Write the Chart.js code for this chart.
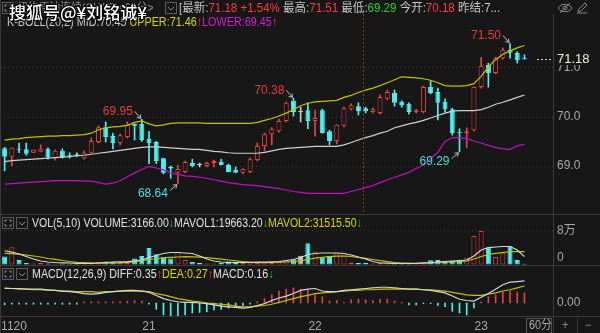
<!DOCTYPE html>
<html>
<head>
<meta charset="utf-8">
<title>K线 60分</title>
<script src="https://cdn.jsdelivr.net/npm/chart.js@4.4.1/dist/chart.umd.min.js"></script>
<style>
  html, body { margin: 0; padding: 0; background: #171717; }
  #board { position: relative; width: 600px; height: 333px; overflow: hidden; background: #171717;
           font-family: 'Liberation Sans', 'Noto Sans CJK SC', sans-serif; color: #c8c8c8; }
  #board canvas { position: absolute; left: 0; }
  .ln { position: absolute; background: #3a3a3a; }
  .t { position: absolute; white-space: nowrap; font-size: 12px; line-height: 14px;
       transform: scaleX(0.9); transform-origin: 0 50%; }
  .ic { position: absolute; }
  .r { color: #ff3b3b; } .g { color: #22d422; } .y { color: #d8d800; } .m { color: #d41cd4; } .w { color: #e2e2e2; }
  .dim { color: #8c8c8c; }
  .wm { position: absolute; left: 9px; top: 2px; font-size: 17px; line-height: 20px; color: #fff;
        font-family: 'Noto Sans CJK SC', sans-serif; font-weight: 500; white-space: nowrap;
        text-shadow: 1px 1px 1px #000, -1px -1px 1px #000, 1px -1px 1px #000, -1px 1px 1px #000; }
</style>
</head>
<body>
<div id="board">
  <canvas id="price" width="600" height="213" style="top:0"></canvas>
  <canvas id="vol" width="600" height="52" style="top:214px"></canvas>
  <canvas id="macd" width="600" height="67" style="top:266px"></canvas>

  <!-- panel separators -->
  <div class="ln" style="left:0;top:0;width:1px;height:333px"></div>
  <div class="ln" style="left:553px;top:14px;width:1px;height:319px"></div>
  <div class="ln" style="left:0;top:214px;width:600px;height:1px"></div>
  <div class="ln" style="left:0;top:265px;width:600px;height:1px"></div>
  <div class="ln" style="left:0;top:316px;width:600px;height:1px"></div>
  <div class="ln" style="left:577px;top:317px;width:1px;height:16px"></div>

  <!-- header -->
  <svg class="ic" style="left:2px;top:2px" width="12" height="12"><rect x="0.5" y="0.5" width="11" height="11" fill="none" stroke="#5c5c5c"/><path d="M3 5V3H5M7 3H9V5M9 7V9H7M5 9H3V7" stroke="#8a8a8a" fill="none"/></svg>
  <div class="t dim" style="left:17px;top:1px">纽约原油连续(CLW0)&lt;60分&gt;</div>
  <svg class="ic" style="left:165px;top:2px" width="12" height="12"><rect x="0.5" y="0.5" width="11" height="11" fill="none" stroke="#5c5c5c"/><path d="M3 5L6 8L9 5" stroke="#8a8a8a" fill="none"/></svg>
  <div class="t" style="left:179px;top:1px;transform:scaleX(0.96)">[最新:<span class="r">71.18 +1.54%</span> 最高:<span class="r">71.51</span> 最低:<span class="g">69.29</span> 今开:<span class="r">70.18</span> 昨结:7...</div>
  <svg class="ic" style="left:557px;top:2px" width="16" height="12"><path d="M1 6C4 1 12 1 15 6C12 11 4 11 1 6Z" stroke="#8a8a8a" fill="none"/><circle cx="8" cy="6" r="2" stroke="#8a8a8a" fill="none"/><path d="M3 11L13 1" stroke="#8a8a8a"/></svg>
  <svg class="ic" style="left:576px;top:1px" width="12" height="13"><path d="M2 11L3 8L9 2L11 4L5 10Z M1 12H11" stroke="#8a8a8a" fill="none"/></svg>
  <div class="t" style="left:7px;top:15px">K-BOLL(20,2) MID:70.45 <span class="y">UPPER:71.46</span><span class="r">↑</span><span class="m">LOWER:69.45</span><span class="r">↑</span></div>
  <div class="wm">搜狐号@¥刘铭诚¥</div>

  <!-- volume header -->
  <svg class="ic" style="left:2px;top:217px" width="12" height="12"><rect x="0.5" y="0.5" width="11" height="11" fill="none" stroke="#5c5c5c"/><path d="M3 5V3H5M7 3H9V5M9 7V9H7M5 9H3V7" stroke="#8a8a8a" fill="none"/></svg>
  <svg class="ic" style="left:16px;top:217px" width="12" height="12"><rect x="0.5" y="0.5" width="11" height="11" fill="none" stroke="#5c5c5c"/><path d="M3 5L6 8L9 5" stroke="#8a8a8a" fill="none"/></svg>
  <div class="t w" style="left:32px;top:216px;transform:scaleX(0.876)">VOL(5,10) VOLUME:3166.00<span class="g">↓</span>MAVOL1:19663.20<span class="g">↓</span><span class="y">MAVOL2:31515.50</span><span class="g">↓</span></div>

  <!-- macd header -->
  <svg class="ic" style="left:2px;top:268px" width="12" height="12"><rect x="0.5" y="0.5" width="11" height="11" fill="none" stroke="#5c5c5c"/><path d="M3 5V3H5M7 3H9V5M9 7V9H7M5 9H3V7" stroke="#8a8a8a" fill="none"/></svg>
  <svg class="ic" style="left:16px;top:268px" width="12" height="12"><rect x="0.5" y="0.5" width="11" height="11" fill="none" stroke="#5c5c5c"/><path d="M3 5L6 8L9 5" stroke="#8a8a8a" fill="none"/></svg>
  <div class="t w" style="left:32px;top:267px;transform:scaleX(0.89)">MACD(12,26,9) DIFF:0.35<span class="r">↑</span><span class="y">DEA:0.27</span><span class="r">↑</span>MACD:0.16<span class="g">↓</span></div>

  <!-- period switch -->
  <div style="position:absolute;left:526px;top:318px;width:24px;height:14px;border:1px solid #555;"></div>
  <div class="t" style="left:529px;top:318px;color:#a8a8a8">60分</div>
  <div class="t" style="left:562px;top:318px;color:#8a8a8a">+</div>
  <div class="t" style="left:585px;top:318px;color:#8a8a8a">−</div>
</div>

<script>
// ---- data (60 min bars, 11-20 .. 11-23) ----
const opens  = [69.36,69.19,69.35,69.34,69.27,69.29,69.35,69.16,69.31,69.22,
                69.23,69.16,69.27,69.49,69.79,69.61,69.47,69.59,69.86,69.86,
                69.55,69.49,69.16,68.98,68.86,68.88,69.06,69.02,69.00,69.06,
                69.08,69.02,68.92,68.86,68.88,69.12,69.41,69.65,69.71,69.92,
                70.33,70.10,70.14,69.92,70.14,69.71,69.51,69.82,70.16,70.22,
                70.18,70.10,70.08,70.37,70.49,70.31,70.27,70.10,70.10,70.61,
                70.51,70.31,70.16,69.69,69.67,69.73,70.61,71.06,70.90,71.20,
                71.37,71.31,71.19];
const highs  = [69.38,69.37,69.47,69.47,69.33,69.43,69.37,69.33,69.35,69.27,
                69.27,69.31,69.57,69.82,69.90,69.67,69.65,69.90,69.86,69.95,
                69.71,69.50,69.16,69.00,69.02,69.10,69.14,69.06,69.08,69.12,
                69.14,69.04,68.98,68.94,69.16,69.47,69.67,69.78,69.96,70.31,
                70.38,70.20,70.29,70.14,70.16,69.73,69.84,70.20,70.27,70.29,
                70.20,70.18,70.45,70.55,70.55,70.33,70.29,70.16,70.63,70.73,
                70.59,70.37,70.18,69.76,69.78,70.61,71.22,71.10,71.22,71.41,
                71.50,71.33,71.27];
const lows   = [68.90,69.00,69.27,69.22,69.27,69.29,69.14,69.12,69.16,69.16,
                69.19,69.14,69.27,69.47,69.49,69.35,69.43,69.57,69.53,69.50,
                69.05,69.05,68.84,68.75,68.64,68.86,68.98,68.98,68.98,68.98,
                69.02,68.88,68.86,68.84,68.86,69.10,69.31,69.43,69.69,69.90,
                70.02,69.90,69.76,69.61,69.67,69.43,69.45,69.80,70.14,70.04,
                70.08,70.08,70.06,70.35,70.22,70.20,70.06,70.08,70.08,70.47,
                69.94,70.10,69.63,69.29,69.37,69.71,70.59,70.61,70.88,71.18,
                71.20,71.10,71.18];
const closes = [69.19,69.37,69.33,69.25,69.33,69.35,69.18,69.31,69.18,69.20,
                69.22,69.27,69.51,69.79,69.59,69.47,69.63,69.84,69.82,69.53,
                69.47,69.10,68.86,68.95,68.94,69.08,69.00,69.02,69.06,69.10,
                69.02,68.88,68.86,68.94,69.14,69.41,69.65,69.76,69.92,70.29,
                70.10,70.10,69.92,69.98,69.67,69.51,69.84,70.18,70.24,70.12,
                70.12,70.16,70.41,70.51,70.29,70.24,70.10,70.14,70.61,70.49,
                70.29,70.16,69.67,69.67,69.71,70.61,71.04,70.90,71.20,71.37,
                71.31,71.16,71.18];

const bollUpper = [69.53,69.55,69.56,69.58,69.59,69.60,69.61,69.61,69.62,69.62,
                   69.63,69.64,69.67,69.74,69.78,69.80,69.81,69.83,69.89,69.92,
                   69.86,69.82,69.84,69.87,69.88,69.88,69.88,69.88,69.87,69.87,
                   69.87,69.87,69.87,69.87,69.87,69.89,69.93,69.97,70.02,70.08,
                   70.15,70.23,70.28,70.31,70.32,70.33,70.34,70.40,70.44,70.50,
                   70.55,70.59,70.64,70.70,70.76,70.82,70.81,70.80,70.78,70.75,
                   70.70,70.64,70.63,70.63,70.64,70.68,70.83,71.02,71.17,71.28,
                   71.35,71.41,71.46];
const bollMid   = [69.09,69.11,69.12,69.13,69.14,69.15,69.16,69.17,69.18,69.19,
                   69.21,69.22,69.24,69.26,69.28,69.30,69.32,69.34,69.36,69.38,
                   69.39,69.39,69.38,69.37,69.36,69.35,69.34,69.34,69.32,69.30,
                   69.29,69.27,69.26,69.26,69.26,69.26,69.28,69.31,69.34,69.36,
                   69.37,69.38,69.39,69.40,69.40,69.40,69.40,69.43,69.48,69.53,
                   69.58,69.62,69.67,69.71,69.78,69.82,69.86,69.89,69.93,69.98,
                   70.03,70.08,70.12,70.13,70.13,70.13,70.15,70.20,70.26,70.30,
                   70.35,70.40,70.45];
const bollLower = [68.63,68.64,68.65,68.66,68.67,68.68,68.69,68.70,68.70,68.70,
                   68.70,68.69,68.69,68.66,68.63,68.65,68.70,68.78,68.86,68.93,
                   68.99,68.96,68.92,68.86,68.83,68.80,68.79,68.77,68.75,68.72,
                   68.69,68.66,68.64,68.62,68.61,68.60,68.58,68.56,68.54,68.51,
                   68.48,68.46,68.44,68.44,68.44,68.44,68.44,68.44,68.48,68.52,
                   68.56,68.60,68.66,68.72,68.77,68.82,68.87,68.95,69.02,69.15,
                   69.28,69.50,69.58,69.58,69.56,69.51,69.47,69.42,69.38,69.35,
                   69.34,69.41,69.44];

const volumes = [20000,42000,12000,4500,3500,4500,3500,3500,2800,2300,
                 2300,3500,6000,7000,8500,7000,4500,6000,15000,21000,
                 40000,25000,18000,15000,31000,12000,7000,4500,3500,3500,
                 4500,8000,4500,4500,7000,6000,7000,4500,7000,10000,
                 13000,22000,51000,32000,17000,21000,29000,29000,6000,4500,
                 4500,3500,4500,3500,3500,3500,3500,3500,7000,11000,
                 12000,10000,9500,12000,17000,68000,80000,42000,19000,29000,
                 44000,12000,3166];
const volMa5  = [33600,30500,25900,20000,14100,9400,7000,5900,5200,4700,
                 4000,3500,4000,4700,5900,7000,7500,7800,9400,11800,
                 17600,22300,27000,29400,29400,28200,27000,21200,14100,9400,
                 7000,6100,5900,5900,5900,6600,7000,7500,8200,10600,
                 12900,17600,24700,27000,28200,28200,28200,27000,23500,18800,
                 14100,8200,4700,4200,3800,3500,3500,3800,4700,5600,
                 7000,8200,9400,10600,11800,21200,35300,41100,42300,43500,
                 43500,35300,19663];
const volMa10 = [27500,26600,25400,23500,21200,18800,15300,13400,10600,8200,
                 6300,5400,4700,4200,4200,4700,5200,6100,7800,10100,
                 12900,15300,16900,18100,18800,19500,19300,18300,17200,15700,
                 13600,11800,9900,8200,7000,5900,5400,5900,6600,7000,
                 8200,10100,12900,16000,18100,19500,20700,21200,20000,17600,
                 15700,12900,10100,7800,5900,4700,4200,4000,4200,4700,
                 5400,6100,7000,7800,9400,14100,20000,24700,27500,29400,
                 31300,31500,31515];

const diffLine = [0.23,0.23,0.23,0.22,0.22,0.22,0.21,0.20,0.19,0.18,
                  0.17,0.15,0.14,0.15,0.17,0.18,0.19,0.20,0.20,0.19,
                  0.17,0.12,0.07,0.04,0.02,0.01,0.01,0.00,-0.01,-0.03,
                  -0.05,-0.06,-0.07,-0.08,-0.07,-0.04,-0.01,0.04,0.08,0.11,
                  0.15,0.20,0.22,0.23,0.19,0.18,0.18,0.20,0.21,0.22,
                  0.23,0.24,0.25,0.25,0.24,0.23,0.22,0.22,0.21,0.20,
                  0.18,0.16,0.11,0.06,0.04,0.03,0.09,0.15,0.22,0.29,
                  0.33,0.34,0.35];
const deaLine  = [0.24,0.23,0.22,0.22,0.21,0.21,0.20,0.20,0.19,0.19,
                  0.18,0.18,0.18,0.17,0.18,0.18,0.19,0.19,0.19,0.19,
                  0.18,0.15,0.13,0.10,0.07,0.05,0.03,0.02,0.00,-0.01,
                  -0.02,-0.03,-0.05,-0.06,-0.06,-0.05,-0.04,-0.02,0.01,0.04,
                  0.07,0.10,0.12,0.15,0.16,0.17,0.18,0.19,0.20,0.20,
                  0.21,0.21,0.22,0.22,0.22,0.22,0.22,0.22,0.21,0.21,
                  0.20,0.19,0.17,0.15,0.13,0.12,0.12,0.14,0.16,0.19,
                  0.21,0.24,0.27];
const macdHist = [-0.03,-0.02,-0.02,-0.02,-0.02,-0.02,-0.02,-0.02,-0.02,-0.02,
                  -0.02,0.02,0.02,0.02,0.02,0.02,0.02,0.03,0.04,0.03,
                  -0.02,-0.10,-0.19,-0.21,-0.20,-0.19,-0.16,-0.15,-0.14,-0.11,
                  -0.10,-0.08,-0.06,-0.04,-0.02,0.02,0.07,0.13,0.19,0.22,
                  0.24,0.22,0.20,0.13,0.10,0.03,0.04,0.01,0.05,0.06,
                  0.05,0.04,0.06,0.06,0.03,0.01,-0.03,-0.03,-0.01,-0.01,
                  -0.04,-0.06,-0.13,-0.16,-0.19,-0.08,0.02,0.10,0.13,0.17,
                  0.19,0.17,0.16];

const dayLabels   = ['1120', '21', '22', '23'];
const dayLabelIdx = [1.3, 20, 43, 66];
const priceTicks  = [69, 70, 71];
const volTicks    = [0, 80000];
const macdTicks   = [0];
const highMarkIdx = [19, 40, 70];   // 69.95, 70.38, 71.50
const lowMarkIdx  = [24, 63];       // 68.64, 69.29
const lastPrice   = 71.18;
const cursorIdx   = 49.6;           // red dotted marker line

// ---- styling ----
const BG = '#171717', RED = '#e04343', CYAN = '#4ff0f0', GREY = '#c8c8c8';
const AXIS_W = 47;
const xMin = -0.64, xMax = 75.95;
const tickFont = { family: "'Liberation Sans', 'Noto Sans CJK SC', sans-serif", size: 12 };
const idx = closes.map((_, i) => i);
const isUp = i => closes[i] > opens[i];
const dirColor = i => closes[i] > opens[i] ? RED : (closes[i] < opens[i] ? CYAN : GREY);

// no automatic padding from tick labels: panels must line up exactly
function noPad(s) { s.paddingTop = 0; s.paddingBottom = 0; s.paddingLeft = 0; s.paddingRight = 0; }

function xScale(show) {
  return {
    type: 'linear', min: xMin, max: xMax, offset: false, display: show,
    grid: { display: false, drawTicks: false }, border: { display: false },
    afterBuildTicks: s => { s.ticks = dayLabelIdx.map(v => ({ value: v })); },
    afterFit: s => { s.height = show ? 17 : 0; noPad(s); },
    ticks: { autoSkip: false, maxRotation: 0, padding: 3, color: '#a8a8a8', font: tickFont,
             callback: v => dayLabels[dayLabelIdx.indexOf(v)] }
  };
}

function yScale(min, max, ticks, fmt, gridColor) {
  return {
    position: 'right', min, max,
    afterBuildTicks: s => { s.ticks = ticks.map(v => ({ value: v })); },
    afterFit: s => { s.width = AXIS_W; noPad(s); },
    grid: { display: !!gridColor, drawTicks: false, color: gridColor || 'transparent', lineWidth: 1 },
    border: { display: false, dash: [1, 3] },
    ticks: { autoSkip: false, padding: 4, color: '#a8a8a8', font: tickFont, callback: fmt }
  };
}

function baseOpts(padding, scales) {
  return {
    responsive: false, animation: false, events: [],
    layout: { autoPadding: false, padding },
    plugins: { legend: { display: false }, tooltip: { enabled: false } },
    scales
  };
}

const lineDs = (arr, color) => ({
  type: 'line', data: idx.map(i => ({ x: i, y: arr[i] })), borderColor: color,
  borderWidth: 1.2, pointRadius: 0, tension: 0, fill: false, order: 0
});

function arrow(ctx, x1, y1, x2, y2) {
  ctx.strokeStyle = '#bcbcbc'; ctx.lineWidth = 1;
  ctx.beginPath(); ctx.moveTo(x1, y1); ctx.lineTo(x2, y2); ctx.stroke();
  const a = Math.atan2(y2 - y1, x2 - x1);
  ctx.beginPath();
  ctx.moveTo(x2 - 4 * Math.cos(a - 0.6), y2 - 4 * Math.sin(a - 0.6));
  ctx.lineTo(x2, y2);
  ctx.lineTo(x2 - 4 * Math.cos(a + 0.6), y2 - 4 * Math.sin(a + 0.6));
  ctx.stroke();
}

const priceMarks = {
  id: 'priceMarks',
  afterDatasetsDraw(chart) {
    const { ctx, chartArea, scales: { x, y } } = chart;
    ctx.save();
    const cx = Math.round(x.getPixelForValue(cursorIdx)) + 0.5;
    ctx.strokeStyle = '#a83030'; ctx.lineWidth = 1; ctx.setLineDash([2, 2]);
    ctx.beginPath(); ctx.moveTo(cx, 14); ctx.lineTo(cx, chartArea.bottom); ctx.stroke();
    ctx.setLineDash([]);

    ctx.font = "12px 'Liberation Sans', sans-serif";
    ctx.textAlign = 'right'; ctx.textBaseline = 'middle';
    highMarkIdx.forEach(i => {
      const px = x.getPixelForValue(i), py = y.getPixelForValue(highs[i]);
      ctx.fillStyle = '#e43c3c';
      ctx.fillText(highs[i].toFixed(2), px - 9, py - 8);
      arrow(ctx, px - 7, py - 8, px - 1, py - 1);
    });
    lowMarkIdx.forEach(i => {
      const px = x.getPixelForValue(i), py = y.getPixelForValue(lows[i]);
      ctx.fillStyle = '#46dede';
      ctx.fillText(lows[i].toFixed(2), px - 10, py + 10);
      arrow(ctx, px - 8, py + 7, px - 1, py + 1);
    });
    ctx.restore();
  },
  afterDraw(chart) {
    const { ctx, chartArea, scales: { y } } = chart;
    const py = Math.round(y.getPixelForValue(lastPrice));
    ctx.save();
    ctx.fillStyle = BG; ctx.fillRect(chartArea.right + 2, py - 7, 44, 13);
    ctx.strokeStyle = '#d8d8d8'; ctx.setLineDash([2, 2]);
    ctx.beginPath(); ctx.moveTo(chartArea.right - 16, py + 0.5); ctx.lineTo(chartArea.right - 2, py + 0.5); ctx.stroke();
    ctx.fillStyle = '#f2f2c4'; ctx.font = "13px 'Liberation Sans', sans-serif";
    ctx.textAlign = 'left'; ctx.textBaseline = 'middle';
    ctx.fillText(lastPrice.toFixed(2), chartArea.right + 4, py);
    ctx.restore();
  }
};

// ---- price panel: candles + BOLL ----
new Chart(document.getElementById('price'), {
  type: 'bar',
  data: {
    datasets: [
      { type: 'bar', data: idx.map(i => ({ x: i, y: [lows[i], highs[i]] })),
        backgroundColor: idx.map(dirColor), borderWidth: 0, barThickness: 1, grouped: false, order: 2 },
      { type: 'bar', data: idx.map(i => ({ x: i, y: [opens[i], closes[i]] })),
        backgroundColor: idx.map(i => isUp(i) ? BG : dirColor(i)), borderColor: idx.map(dirColor),
        borderWidth: 1, borderSkipped: false, barThickness: 5, minBarLength: 1, inflateAmount: 0,
        grouped: false, order: 1 },
      lineDs(bollUpper, '#c2c200'),
      lineDs(bollMid, '#cfcfcf'),
      lineDs(bollLower, '#bf12bf')
    ]
  },
  options: baseOpts({ top: 26, bottom: 0, left: 0, right: 0 }, {
    x: xScale(false),
    y: yScale(68.041, 71.857, priceTicks, v => v.toFixed(1), '#3c3c3c')
  }),
  plugins: [priceMarks]
});

// ---- volume panel ----
new Chart(document.getElementById('vol'), {
  type: 'bar',
  data: {
    datasets: [
      { type: 'bar', data: idx.map(i => ({ x: i, y: volumes[i] })),
        backgroundColor: idx.map(i => isUp(i) ? BG : dirColor(i)), borderColor: idx.map(dirColor),
        borderWidth: 1, borderSkipped: false, barThickness: 5, inflateAmount: 0, grouped: false, order: 1 },
      lineDs(volMa5, '#d6d6d6'),
      lineDs(volMa10, '#c2c200')
    ]
  },
  options: baseOpts({ top: 1, bottom: 1, left: 0, right: 0 }, {
    x: xScale(false),
    y: yScale(0, 117647, volTicks, v => v === 0 ? ['0', ''] : (v / 10000) + '万', '#3c3c3c')
  })
});

// ---- MACD panel ----
new Chart(document.getElementById('macd'), {
  type: 'bar',
  data: {
    datasets: [
      { type: 'bar', data: idx.map(i => ({ x: i, y: macdHist[i] })),
        backgroundColor: idx.map(i => macdHist[i] >= 0 ? RED : CYAN), borderWidth: 0,
        barThickness: 1, grouped: false, order: 1 },
      lineDs(diffLine, '#d6d6d6'),
      lineDs(deaLine, '#c2c200')
    ]
  },
  options: baseOpts({ top: 1, bottom: 0, left: 0, right: 0 }, {
    x: xScale(true),
    y: yScale(-0.2063, 0.5714, macdTicks, v => v.toFixed(2), null)
  })
});
</script>
</body>
</html>
